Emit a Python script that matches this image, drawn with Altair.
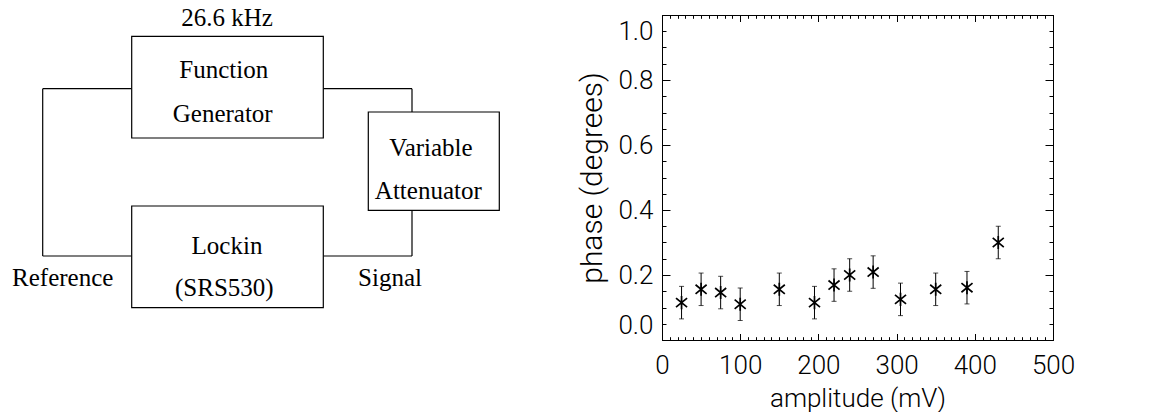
import altair as alt
import pandas as pd

# ---------------- data: phase vs amplitude ----------------
amplitude = [25, 50, 75, 100, 150, 195, 220, 240, 270, 305, 350, 390, 430]
phase = [0.115, 0.156, 0.146, 0.110, 0.156, 0.115, 0.169, 0.200, 0.209, 0.125, 0.156, 0.161, 0.300]
phase_err = [0.05, 0.05, 0.05, 0.05, 0.05, 0.05, 0.05, 0.05, 0.05, 0.05, 0.05, 0.05, 0.05]

x_major = [0, 100, 200, 300, 400, 500]
x_minor = list(range(0, 501, 10))
y_major = [0.0, 0.2, 0.4, 0.6, 0.8, 1.0]
y_minor = [round(i * 0.05, 2) for i in range(21)]
y_mid_labels = [0.2, 0.4, 0.6, 0.8]

# ---------------- data: block diagram (diagram units) ----------------
box_x1 = [122.7, 122.7, 359.3]
box_x2 = [314.3, 314.3, 490.3]
box_y1 = [21.3, 191.0, 97.0]
box_y2 = [123.0, 292.7, 195.3]

wire_x1 = [122.7, 33.7, 33.7, 314.3, 403.0, 403.0, 403.0]
wire_y1 = [73.7, 73.7, 241.0, 73.7, 73.7, 195.3, 241.0]
wire_x2 = [33.7, 33.7, 122.7, 403.0, 403.0, 403.0, 314.3]
wire_y2 = [73.7, 241.0, 241.0, 73.7, 97.0, 241.0, 241.0]

label_text = ["26.6 kHz", "Function", "Generator", "Lockin", "(SRS530)",
              "Variable", "Attenuator", "Reference", "Signal"]
label_x = [218.0, 214.7, 213.7, 218.0, 215.3, 422.0, 419.3, 53.7, 381.0]
label_y = [3.0, 55.3, 99.3, 231.0, 272.7, 132.7, 176.0, 262.7, 262.7]

DW, DH = 500, 325
PW, PH = 391, 325
SERIF = "Liberation Serif"
SANS = "Roboto"
FS = 26

boxes = pd.DataFrame({"x1": box_x1, "x2": box_x2, "y1": box_y1, "y2": box_y2})
wires = pd.DataFrame({"x1": wire_x1, "x2": wire_x2, "y1": wire_y1, "y2": wire_y2})
labels = pd.DataFrame({"t": label_text, "x": label_x, "y": label_y})

dxs = alt.Scale(domain=[0, DW], nice=False, zero=False)
dys = alt.Scale(domain=[0, DH], nice=False, zero=False, reverse=True)

box_layer = alt.Chart(boxes).mark_rect(fill="white", stroke="black", strokeWidth=1.2).encode(
    x=alt.X("x1:Q", scale=dxs, axis=None), x2="x2:Q",
    y=alt.Y("y1:Q", scale=dys, axis=None), y2="y2:Q")
wire_layer = alt.Chart(wires).mark_rule(color="black", strokeWidth=1.2).encode(
    x=alt.X("x1:Q", scale=dxs, axis=None), x2="x2:Q",
    y=alt.Y("y1:Q", scale=dys, axis=None), y2="y2:Q")
text_layer = alt.Chart(labels).mark_text(font=SERIF, fontSize=25, color="black",
                                         align="center", baseline="middle").encode(
    x=alt.X("x:Q", scale=dxs, axis=None),
    y=alt.Y("y:Q", scale=dys, axis=None),
    text="t:N")

diagram = alt.layer(wire_layer, box_layer, text_layer).properties(
    width=DW, height=DH, view=alt.ViewBackground(stroke="transparent"))

# ---------------- plot ----------------
df = pd.DataFrame({"amp": amplitude, "phase": phase, "err": phase_err})
df["lo"] = df["phase"] - df["err"]
df["hi"] = df["phase"] + df["err"]

xs = alt.Scale(domain=[0, 500], nice=False, zero=False)
ys = alt.Scale(domain=[0, 1], nice=False, zero=False)


def tick_axis(orient, values, size):
    return alt.Axis(orient=orient, values=values, tickSize=size, offset=-size,
                    labels=False, domain=False, grid=False, title=None,
                    tickColor="black", tickWidth=1, labelFlush=False)


def label_axis(orient, values, fmt, **kw):
    base = dict(orient=orient, values=values, format=fmt, ticks=False, domain=False,
                grid=False, labelFont=SANS, labelFontSize=FS, labelFontWeight=300,
                labelColor="black", labelFlush=False, labelOverlap=False,
                titleFont=SANS, titleFontSize=FS, titleFontWeight=300, titleColor="black")
    base.update(kw)
    return alt.Axis(**base)


x_lab = label_axis("bottom", x_major, "d", labelPadding=12, title="amplitude (mV)", titlePadding=7)
y_lab = label_axis("left", y_mid_labels, ".1f", labelPadding=9, title="phase (degrees)",
                   titlePadding=10, titleFontSize=30)
y_lab0 = label_axis("left", [0.0], ".1f", labelPadding=9, labelOffset=-14.5, title=None)
y_lab1 = label_axis("left", [1.0], ".1f", labelPadding=9, labelOffset=16, title=None)

base = alt.Chart(df)

bars = base.mark_rule(color="black", strokeWidth=1).encode(
    x=alt.X("amp:Q", scale=xs, axis=x_lab),
    y=alt.Y("lo:Q", scale=ys, axis=y_lab), y2="hi:Q")
cap_hi = base.mark_tick(orient="horizontal", size=5, thickness=1, color="black").encode(
    x=alt.X("amp:Q", scale=xs, axis=tick_axis("bottom", x_major, 6.5)),
    y=alt.Y("hi:Q", scale=ys, axis=tick_axis("left", y_major, 8)))
cap_lo = base.mark_tick(orient="horizontal", size=5, thickness=1, color="black").encode(
    x=alt.X("amp:Q", scale=xs, axis=tick_axis("bottom", x_minor, 3.3)),
    y=alt.Y("lo:Q", scale=ys, axis=tick_axis("left", y_minor, 4)))
star = "M0,-1L0,1M-0.85,-0.7L0.85,0.7M-0.85,0.7L0.85,-0.7"
pts = base.mark_point(shape=star, filled=False, stroke="black", strokeWidth=1.7, size=170,
                      opacity=1).encode(
    x=alt.X("amp:Q", scale=xs, axis=tick_axis("top", x_major, 6.5)),
    y=alt.Y("phase:Q", scale=ys, axis=tick_axis("right", y_major, 8)))
ghost1 = base.mark_point(opacity=0).encode(
    x=alt.X("amp:Q", scale=xs, axis=tick_axis("top", x_minor, 3.3)),
    y=alt.Y("phase:Q", scale=ys, axis=tick_axis("right", y_minor, 4)))
ghost2 = base.mark_point(opacity=0).encode(
    x=alt.X("amp:Q", scale=xs, axis=None),
    y=alt.Y("phase:Q", scale=ys, axis=y_lab0))
ghost3 = base.mark_point(opacity=0).encode(
    x=alt.X("amp:Q", scale=xs, axis=None),
    y=alt.Y("phase:Q", scale=ys, axis=y_lab1))

plot = alt.layer(bars, cap_hi, cap_lo, pts, ghost1, ghost2, ghost3).resolve_axis(
    x="independent", y="independent").properties(width=PW, height=PH)

chart = alt.hconcat(diagram, plot, spacing=653 - DW, bounds="flush").properties(
    padding={"top": -3, "left": 0, "right": 0, "bottom": 0},
    background="white",
).configure_view(stroke="black", strokeWidth=1)

chart.save("out.html", embed_options={"renderer": "svg", "actions": False})
